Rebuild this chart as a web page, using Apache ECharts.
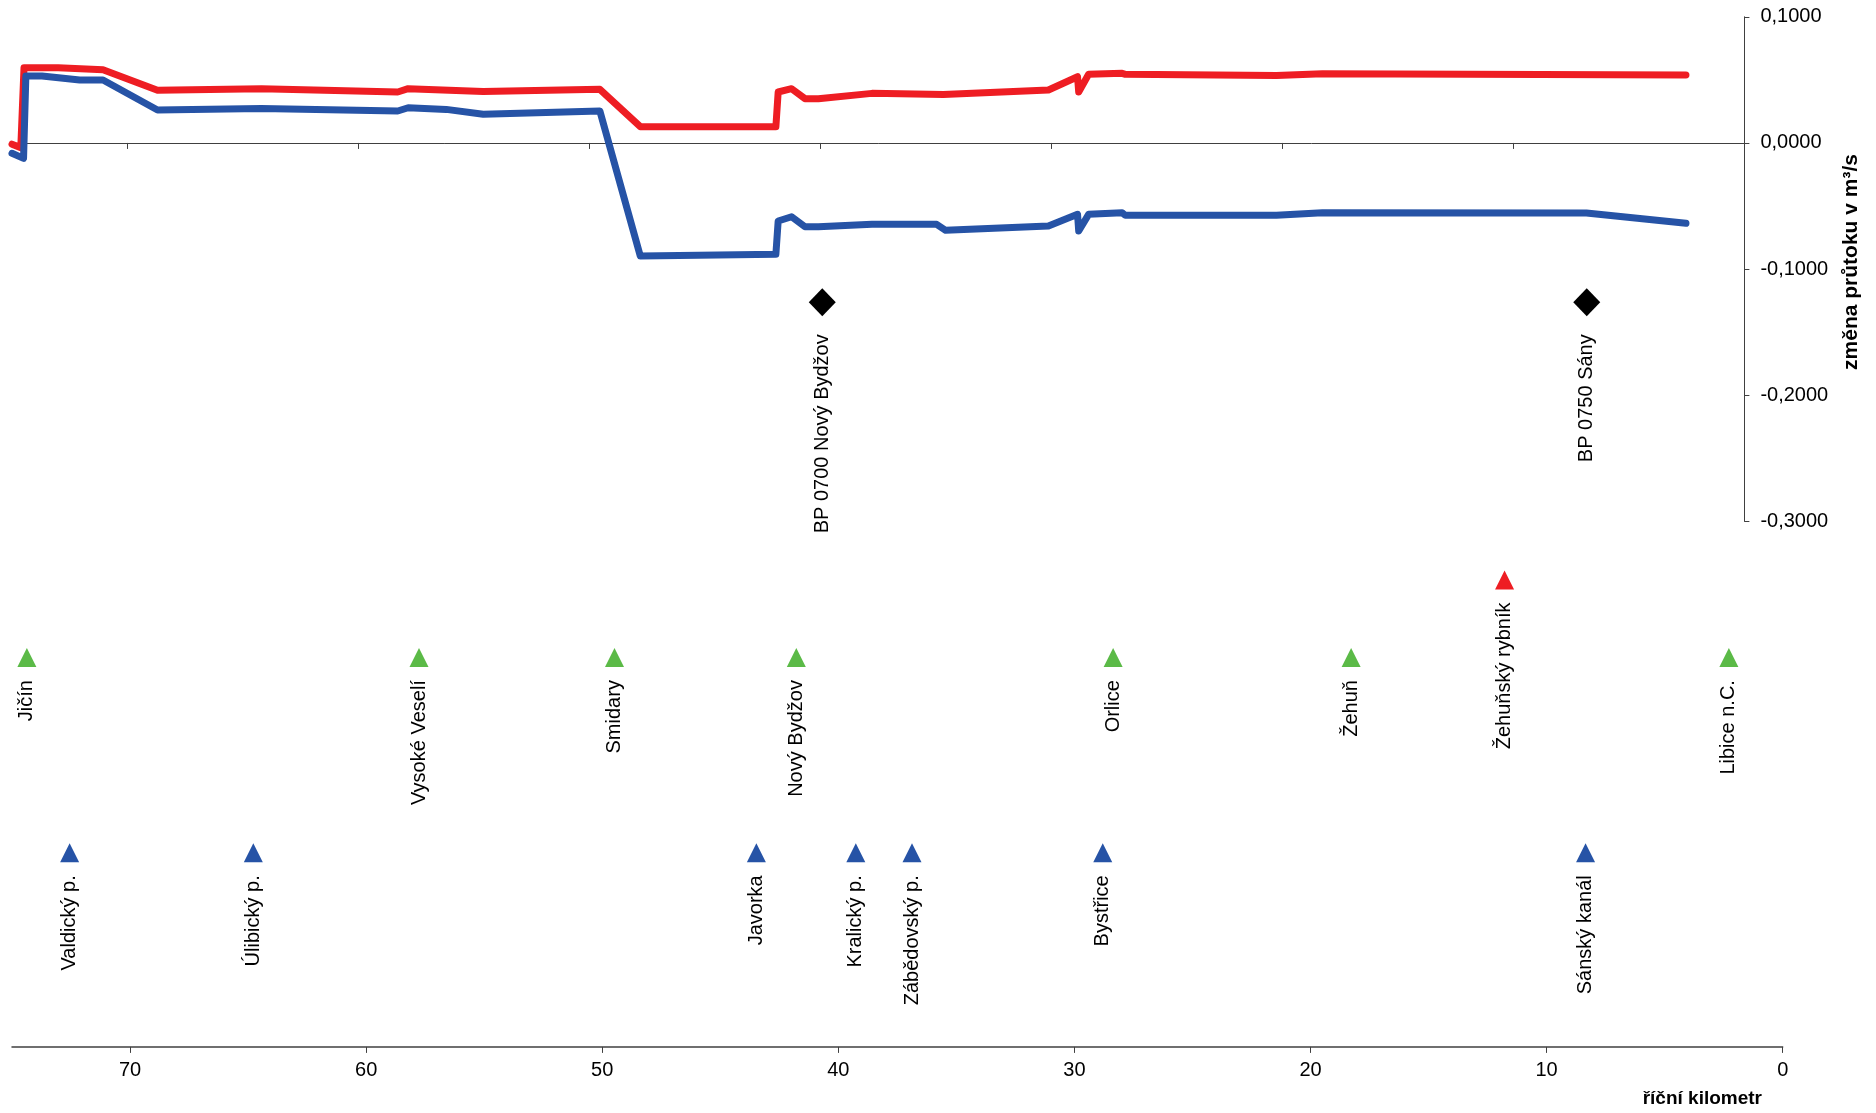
<!DOCTYPE html>
<html><head><meta charset="utf-8">
<script src="https://cdn.jsdelivr.net/npm/echarts@6/dist/echarts.min.js"></script>
<style>html,body{margin:0;padding:0;background:#fff}#c{width:1876px;height:1113px}</style>
</head><body><div id="c"></div>
<script>
// ---- data (river km, change of discharge in m3/s) ----
const redKm  = [75.0, 74.62, 74.48, 73.0, 71.06, 68.7, 64.2, 58.3, 57.85, 54.6, 49.55, 47.8, 41.93, 41.83, 41.25, 40.67, 40.09, 37.77, 34.68, 30.13, 28.87, 28.82, 28.39, 26.94, 26.8, 20.26, 18.27, 2.53];
const redQ   = [-0.001, -0.0037, 0.0597, 0.0597, 0.058, 0.0417, 0.043, 0.0404, 0.043, 0.0407, 0.0425, 0.0129, 0.0129, 0.0404, 0.043, 0.0351, 0.0351, 0.0393, 0.0385, 0.042, 0.0525, 0.0404, 0.0544, 0.0552, 0.0544, 0.0535, 0.0549, 0.0538];
const blueKm = [75.0, 74.5, 74.4, 73.7, 72.07, 71.06, 68.7, 64.2, 58.3, 57.85, 56.2, 54.6, 49.55, 47.8, 41.93, 41.83, 41.25, 40.67, 40.09, 37.77, 34.97, 34.58, 30.13, 28.87, 28.82, 28.39, 26.94, 26.8, 20.26, 18.27, 6.84, 2.53];
const blueQ  = [-0.0082, -0.0122, 0.053, 0.053, 0.0499, 0.0499, 0.0261, 0.0274, 0.0253, 0.0279, 0.0266, 0.0227, 0.0253, -0.0896, -0.0883, -0.0619, -0.0585, -0.0664, -0.0664, -0.0645, -0.0645, -0.0693, -0.0659, -0.0566, -0.0698, -0.0566, -0.0553, -0.0574, -0.0574, -0.0553, -0.0556, -0.0637];

// places along the river (green), ponds (red), tributaries (blue), gauging stations (black)
const townNames = ['Jičín', 'Vysoké Veselí', 'Smidary', 'Nový Bydžov', 'Orlice', 'Žehuň', 'Libice n.C.'];
const townKm    = [74.37, 57.76, 49.48, 41.78, 28.36, 18.28, 2.28];
const townQ     = [-0.408, -0.408, -0.408, -0.408, -0.408, -0.408, -0.408];
const pondNames = ['Žehuňský rybník'];
const pondKm    = [11.78];
const pondQ     = [-0.3465];
const tribNames = ['Valdický p.', 'Úlibický p.', 'Javorka', 'Kralický p.', 'Zábědovský p.', 'Bystřice', 'Sánský kanál'];
const tribKm    = [72.56, 64.78, 43.47, 39.26, 36.88, 28.80, 8.35];
const tribQ     = [-0.5627, -0.5627, -0.5627, -0.5627, -0.5627, -0.5627, -0.5627];
const gaugeNames = ['BP 0700 Nový Bydžov', 'BP 0750 Sány'];
const gaugeKm    = [40.68, 8.30];
const gaugeQ     = [-0.1263, -0.1263];

const xTicks = [0, 10, 20, 30, 40, 50, 60, 70];
const yTicks = [-0.3, -0.2, -0.1, 0, 0.1];
const yTitle = 'změna průtoku v m³/s';
const xTitle = 'říční kilometr';

// ---- chart ----
const FONT = 'Liberation Sans, Arial, sans-serif';
const AX = '#404040';
const pts = (km, q) => km.map((k, i) => [k, q[i]]);
const named = (names, km, q) => names.map((n, i) => ({ name: n, value: [km[i], q[i]] }));
const lbl = { show: true, position: 'bottom', distance: 13, rotate: 90, align: 'right', verticalAlign: 'middle',
  formatter: p => p.name, color: '#000', fontFamily: FONT, fontSize: 20 };

const chart = echarts.init(document.getElementById('c'), null, { renderer: 'canvas' });
chart.setOption({
  animation: false,
  backgroundColor: '#fff',
  grid: [
    { left: 12, right: 131.6, top: 16.8, bottom: 591.6 },
    { left: 12, right: 93.3, top: 16.8, bottom: 66.1 }
  ],
  xAxis: [
    { type: 'value', gridIndex: 0, min: 0, max: 75, interval: 10, inverse: true,
      axisLine: { show: true, onZero: true, lineStyle: { color: AX, width: 1 } },
      axisTick: { show: true, length: 6, customValues: xTicks, lineStyle: { color: AX } },
      axisLabel: { show: false }, splitLine: { show: false } },
    { type: 'value', gridIndex: 1, min: 0, max: 75, interval: 10, inverse: true,
      axisLine: { show: true, onZero: false, lineStyle: { color: AX, width: 1.5 } },
      axisTick: { show: true, length: 6, customValues: xTicks, lineStyle: { color: AX } },
      axisLabel: { show: true, customValues: xTicks, margin: 14, color: '#000', fontFamily: FONT, fontSize: 20 },
      splitLine: { show: false } }
  ],
  yAxis: [
    { type: 'value', gridIndex: 0, position: 'right', min: -0.3, max: 0.1, interval: 0.1,
      axisLine: { show: true, onZero: false, lineStyle: { color: AX, width: 1 } },
      axisTick: { show: true, length: 5, customValues: yTicks, lineStyle: { color: AX } },
      axisLabel: { show: true, customValues: yTicks, margin: 16, color: '#000', fontFamily: FONT, fontSize: 20,
        formatter: v => (Math.abs(v) < 1e-9 ? 0 : v).toFixed(4).replace('.', ',') },
      splitLine: { show: false } },
    { type: 'value', gridIndex: 1, min: -0.7166, max: 0.1, show: false }
  ],
  graphic: [
    { type: 'text', x: 1851, y: 262, rotation: Math.PI / 2,
      style: { text: yTitle, font: 'bold 21px ' + FONT, fill: '#000', align: 'center', verticalAlign: 'middle' } },
    { type: 'text', x: 1762, y: 1099,
      style: { text: xTitle, font: 'bold 19px ' + FONT, fill: '#000', align: 'right', verticalAlign: 'middle' } }
  ],
  series: [
    { name: 'červená', type: 'line', xAxisIndex: 0, yAxisIndex: 0, data: pts(redKm, redQ), showSymbol: false,
      lineStyle: { color: '#EE1D23', width: 7, cap: 'round', join: 'round' }, z: 3 },
    { name: 'modrá', type: 'line', xAxisIndex: 0, yAxisIndex: 0, data: pts(blueKm, blueQ), showSymbol: false,
      lineStyle: { color: '#2653A6', width: 7, cap: 'round', join: 'round' }, z: 3 },
    { name: 'obce', type: 'scatter', xAxisIndex: 1, yAxisIndex: 1, data: named(townNames, townKm, townQ),
      symbol: 'triangle', symbolSize: 19, itemStyle: { color: '#5BBA47', opacity: 1 }, label: lbl },
    { name: 'rybník', type: 'scatter', xAxisIndex: 1, yAxisIndex: 1, data: named(pondNames, pondKm, pondQ),
      symbol: 'triangle', symbolSize: 19, itemStyle: { color: '#EE1D23', opacity: 1 }, label: lbl },
    { name: 'přítoky', type: 'scatter', xAxisIndex: 1, yAxisIndex: 1, data: named(tribNames, tribKm, tribQ),
      symbol: 'triangle', symbolSize: 19, itemStyle: { color: '#2653A6', opacity: 1 }, label: lbl },
    { name: 'profily', type: 'scatter', xAxisIndex: 1, yAxisIndex: 1, data: named(gaugeNames, gaugeKm, gaugeQ),
      symbol: 'diamond', symbolSize: [27, 28], itemStyle: { color: '#000', opacity: 1 }, label: Object.assign({}, lbl, { distance: 18 }) }
  ]
});
</script>
</body></html>
